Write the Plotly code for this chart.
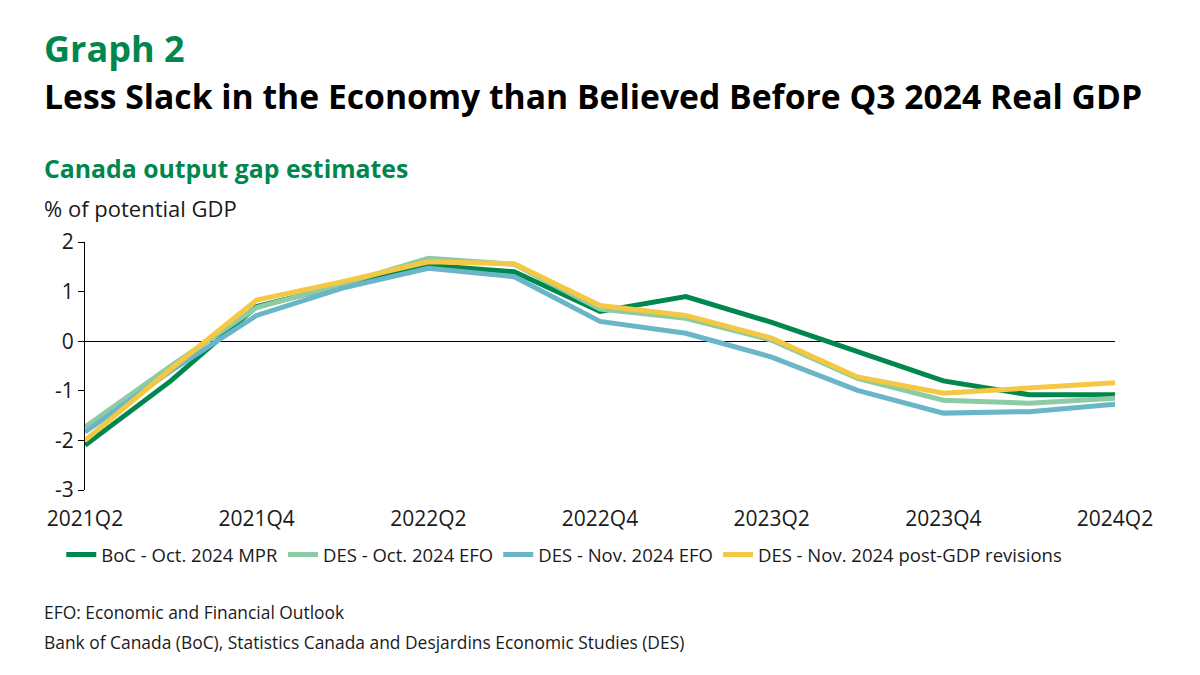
import plotly.graph_objects as go

quarters = ["2021Q2", "2021Q3", "2021Q4", "2022Q1", "2022Q2", "2022Q3", "2022Q4",
            "2023Q1", "2023Q2", "2023Q3", "2023Q4", "2024Q1", "2024Q2"]
tick_quarters = quarters[::2]
y_ticks = [-3, -2, -1, 0, 1, 2]
y_tick_labels = ["-3", "-2", "-1", "0", "1", "2"]

boc_oct_mpr = [-2.1, -0.8, 0.7, 1.13, 1.53, 1.4, 0.6, 0.9, 0.38, -0.22, -0.8, -1.08, -1.08]
des_oct_efo = [-1.73, -0.5, 0.68, 1.15, 1.67, 1.55, 0.65, 0.46, 0.02, -0.75, -1.19, -1.25, -1.15]
des_nov_efo = [-1.83, -0.6, 0.52, 1.07, 1.47, 1.3, 0.4, 0.16, -0.32, -0.99, -1.45, -1.42, -1.27]
des_nov_post = [-2.0, -0.56, 0.83, 1.2, 1.6, 1.56, 0.72, 0.52, 0.06, -0.72, -1.05, -0.95, -0.84]

series = [
    ("BoC - Oct. 2024 MPR", boc_oct_mpr, "#00874E"),
    ("DES - Oct. 2024 EFO", des_oct_efo, "#8DCBA4"),
    ("DES - Nov. 2024 EFO", des_nov_efo, "#6BB5C9"),
    ("DES - Nov. 2024 post-GDP revisions", des_nov_post, "#F5C843"),
]

font = "Open Sans"

fig = go.Figure()
for name, vals, color in series:
    fig.add_trace(go.Scatter(
        x=quarters,
        y=vals,
        name=name,
        mode="lines",
        line=dict(color=color, width=5),
    ))

# page has an 8px body margin, so the figure is drawn 8px in from the window edge
fig.update_layout(
    width=1184,
    height=659,
    paper_bgcolor="white",
    plot_bgcolor="white",
    margin=dict(l=77, r=77, t=234, b=177, autoexpand=False),
    font=dict(family=font, size=20, color="#1a1a1a"),
    showlegend=True,
    legend=dict(
        orientation="h",
        x=0.045, xref="container", xanchor="left",
        y=0.17, yref="container", yanchor="middle",
        font=dict(size=18.5),
        itemwidth=30,
        tracegroupgap=0,
    ),
)

fig.update_xaxes(
    type="category",
    range=[0, 12],
    tickvals=tick_quarters,
    ticktext=tick_quarters,
    tickfont=dict(size=21),
    showgrid=False,
    showline=False,
    ticks="",
    ticklabelstandoff=14,
    zeroline=False,
    automargin=False,
    fixedrange=True,
)
fig.update_yaxes(
    range=[-3, 2],
    tickvals=y_ticks,
    ticktext=y_tick_labels,
    tickfont=dict(size=21),
    showgrid=False,
    showline=True,
    linecolor="#000000",
    linewidth=1,
    ticks="outside",
    ticklen=6,
    tickcolor="#000000",
    zeroline=True,
    zerolinecolor="#000000",
    zerolinewidth=1,
    automargin=False,
    fixedrange=True,
)

annotations = [
    dict(text="<b>Graph 2</b>", x=42, y=48, size=36, color="#00874E"),
    dict(text="<b>Less Slack in the Economy than Believed Before Q3 2024 Real GDP</b>",
         x=42, y=96, size=33.7, color="#000000"),
    dict(text="<b>Canada output gap estimates</b>", x=42, y=168, size=24.8, color="#00874E"),
    dict(text="% of potential GDP", x=42, y=208, size=22, color="#1a1a1a"),
    dict(text="EFO: Economic and Financial Outlook", x=42, y=612, size=17.4, color="#1a1a1a"),
    dict(text="Bank of Canada (BoC), Statistics Canada and Desjardins Economic Studies (DES)",
         x=42, y=642, size=17.4, color="#1a1a1a"),
]
for a in annotations:
    fig.add_annotation(
        text=a["text"],
        xref="paper", yref="paper",
        x=(a["x"] - 85) / 1030,
        y=(490 - a["y"]) / 248,
        xanchor="left", yanchor="middle",
        showarrow=False,
        font=dict(family=font, size=a["size"], color=a["color"]),
    )

fig.write_html("out.html")
